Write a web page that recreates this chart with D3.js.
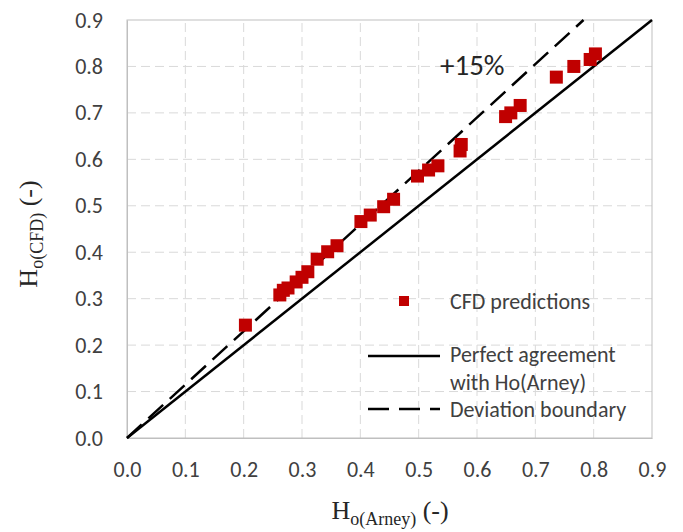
<!DOCTYPE html>
<html>
<head>
<meta charset="utf-8">
<script src="https://cdn.jsdelivr.net/npm/d3@7"></script>
<style>
  body { margin: 0; background: #fff; }
</style>
</head>
<body>
<script>
// Data
const arney = [0.203, 0.262, 0.268, 0.276, 0.290, 0.300, 0.310, 0.326, 0.344, 0.360,
               0.401, 0.417, 0.440, 0.457, 0.498, 0.517, 0.533, 0.571, 0.573,
               0.649, 0.658, 0.674, 0.736, 0.766, 0.794, 0.803];
const cfd   = [0.243, 0.308, 0.318, 0.323, 0.336, 0.346, 0.358, 0.385, 0.401, 0.414,
               0.466, 0.480, 0.498, 0.514, 0.564, 0.577, 0.586, 0.618, 0.632,
               0.692, 0.700, 0.716, 0.777, 0.800, 0.815, 0.827];
const ticks = [0, 0.1, 0.2, 0.3, 0.4, 0.5, 0.6, 0.7, 0.8, 0.9];
const perfectLine = [[0, 0], [0.9, 0.9]];
const deviationLine = [[0, 0], [0.9 / 1.15, 0.9]];

const width = 683, height = 532;
const margin = { top: 20, right: 31, bottom: 94, left: 127 };

const svg = d3.select("body").append("svg")
    .attr("width", width)
    .attr("height", height);

const x = d3.scaleLinear().domain([0, 0.9]).range([margin.left, width - margin.right]);
const y = d3.scaleLinear().domain([0, 0.9]).range([height - margin.bottom, margin.top]);

const labelFont = "Carlito, Lato, 'Open Sans', sans-serif";

// Gridlines
svg.append("g")
    .selectAll("line")
    .data(ticks.slice(1, -1))
    .join("line")
    .attr("x1", d => x(d)).attr("x2", d => x(d))
    .attr("y1", y(0)).attr("y2", y(0.9))
    .attr("stroke", "#d9d9d9")
    .attr("stroke-dasharray", "9,5");

svg.append("g")
    .selectAll("line")
    .data(ticks.slice(1, -1))
    .join("line")
    .attr("x1", x(0)).attr("x2", x(0.9))
    .attr("y1", d => y(d)).attr("y2", d => y(d))
    .attr("stroke", "#d9d9d9")
    .attr("stroke-dasharray", "9,5");

// Plot frame
svg.append("rect")
    .attr("x", x(0)).attr("y", y(0.9))
    .attr("width", x(0.9) - x(0))
    .attr("height", y(0) - y(0.9))
    .attr("fill", "none")
    .attr("stroke", "#bfbfbf");

// Axes
const xAxis = svg.append("g")
    .attr("transform", `translate(0,${y(0)})`)
    .call(d3.axisBottom(x).tickValues(ticks).tickFormat(d3.format(".1f")).tickSize(0).tickPadding(23));
const yAxis = svg.append("g")
    .attr("transform", `translate(${x(0)},0)`)
    .call(d3.axisLeft(y).tickValues(ticks).tickFormat(d3.format(".1f")).tickSize(0).tickPadding(24));

[xAxis, yAxis].forEach(a => {
    a.select(".domain").attr("stroke", "#bfbfbf");
    a.selectAll("text")
        .style("font-family", labelFont)
        .style("font-size", "22px")
        .attr("fill", "#404040");
});

// Reference lines
const line = d3.line().x(d => x(d[0])).y(d => y(d[1]));

svg.append("path")
    .datum(perfectLine)
    .attr("d", line)
    .attr("fill", "none")
    .attr("stroke", "#000")
    .attr("stroke-width", 2.5);

svg.append("path")
    .datum(deviationLine)
    .attr("d", line)
    .attr("fill", "none")
    .attr("stroke", "#000")
    .attr("stroke-width", 2.5)
    .attr("stroke-dasharray", "20,9");

// Points
const size = 13;
svg.append("g")
    .selectAll("rect")
    .data(arney.map((a, i) => ({ a, c: cfd[i] })))
    .join("rect")
    .attr("x", d => x(d.a) - size / 2)
    .attr("y", d => y(d.c) - size / 2)
    .attr("width", size)
    .attr("height", size)
    .attr("fill", "#c00000");

// +15% label
svg.append("text")
    .attr("x", 440).attr("y", 75)
    .style("font-family", labelFont)
    .style("font-size", "29px")
    .attr("fill", "#262626")
    .text("+15%");

// Legend
const legend = svg.append("g")
    .style("font-family", labelFont)
    .style("font-size", "22px")
    .attr("fill", "#404040");

legend.append("rect")
    .attr("x", 399).attr("y", 296)
    .attr("width", 10).attr("height", 10)
    .attr("fill", "#c00000");
legend.append("text").attr("x", 450).attr("y", 309).text("CFD predictions");

legend.append("line")
    .attr("x1", 368).attr("x2", 440)
    .attr("y1", 356).attr("y2", 356)
    .attr("stroke", "#000").attr("stroke-width", 2.5);
legend.append("text").attr("x", 450).attr("y", 362).text("Perfect agreement");
legend.append("text").attr("x", 450).attr("y", 390).text("with Ho(Arney)");

legend.append("line")
    .attr("x1", 368).attr("x2", 440)
    .attr("y1", 409).attr("y2", 409)
    .attr("stroke", "#000").attr("stroke-width", 2.5)
    .attr("stroke-dasharray", "21,10");
legend.append("text").attr("x", 450).attr("y", 417).text("Deviation boundary");

// Axis titles
const serif = "'Liberation Serif', 'DejaVu Serif', serif";

const xTitle = svg.append("text")
    .attr("x", 390).attr("y", 519)
    .attr("text-anchor", "middle")
    .style("font-family", serif)
    .style("font-size", "26px")
    .attr("fill", "#262626");
xTitle.append("tspan").text("H");
xTitle.append("tspan").attr("dy", 6).style("font-size", "18px").text("o(Arney)");
xTitle.append("tspan").attr("dy", -6).text(" (-)");

const yTitle = svg.append("text")
    .attr("transform", "translate(37,234) rotate(-90)")
    .attr("text-anchor", "middle")
    .style("font-family", serif)
    .style("font-size", "26px")
    .attr("fill", "#262626");
yTitle.append("tspan").text("H");
yTitle.append("tspan").attr("dy", 6).style("font-size", "18px").text("o(CFD)");
yTitle.append("tspan").attr("dy", -6).text(" (-)");
</script>
</body>
</html>
